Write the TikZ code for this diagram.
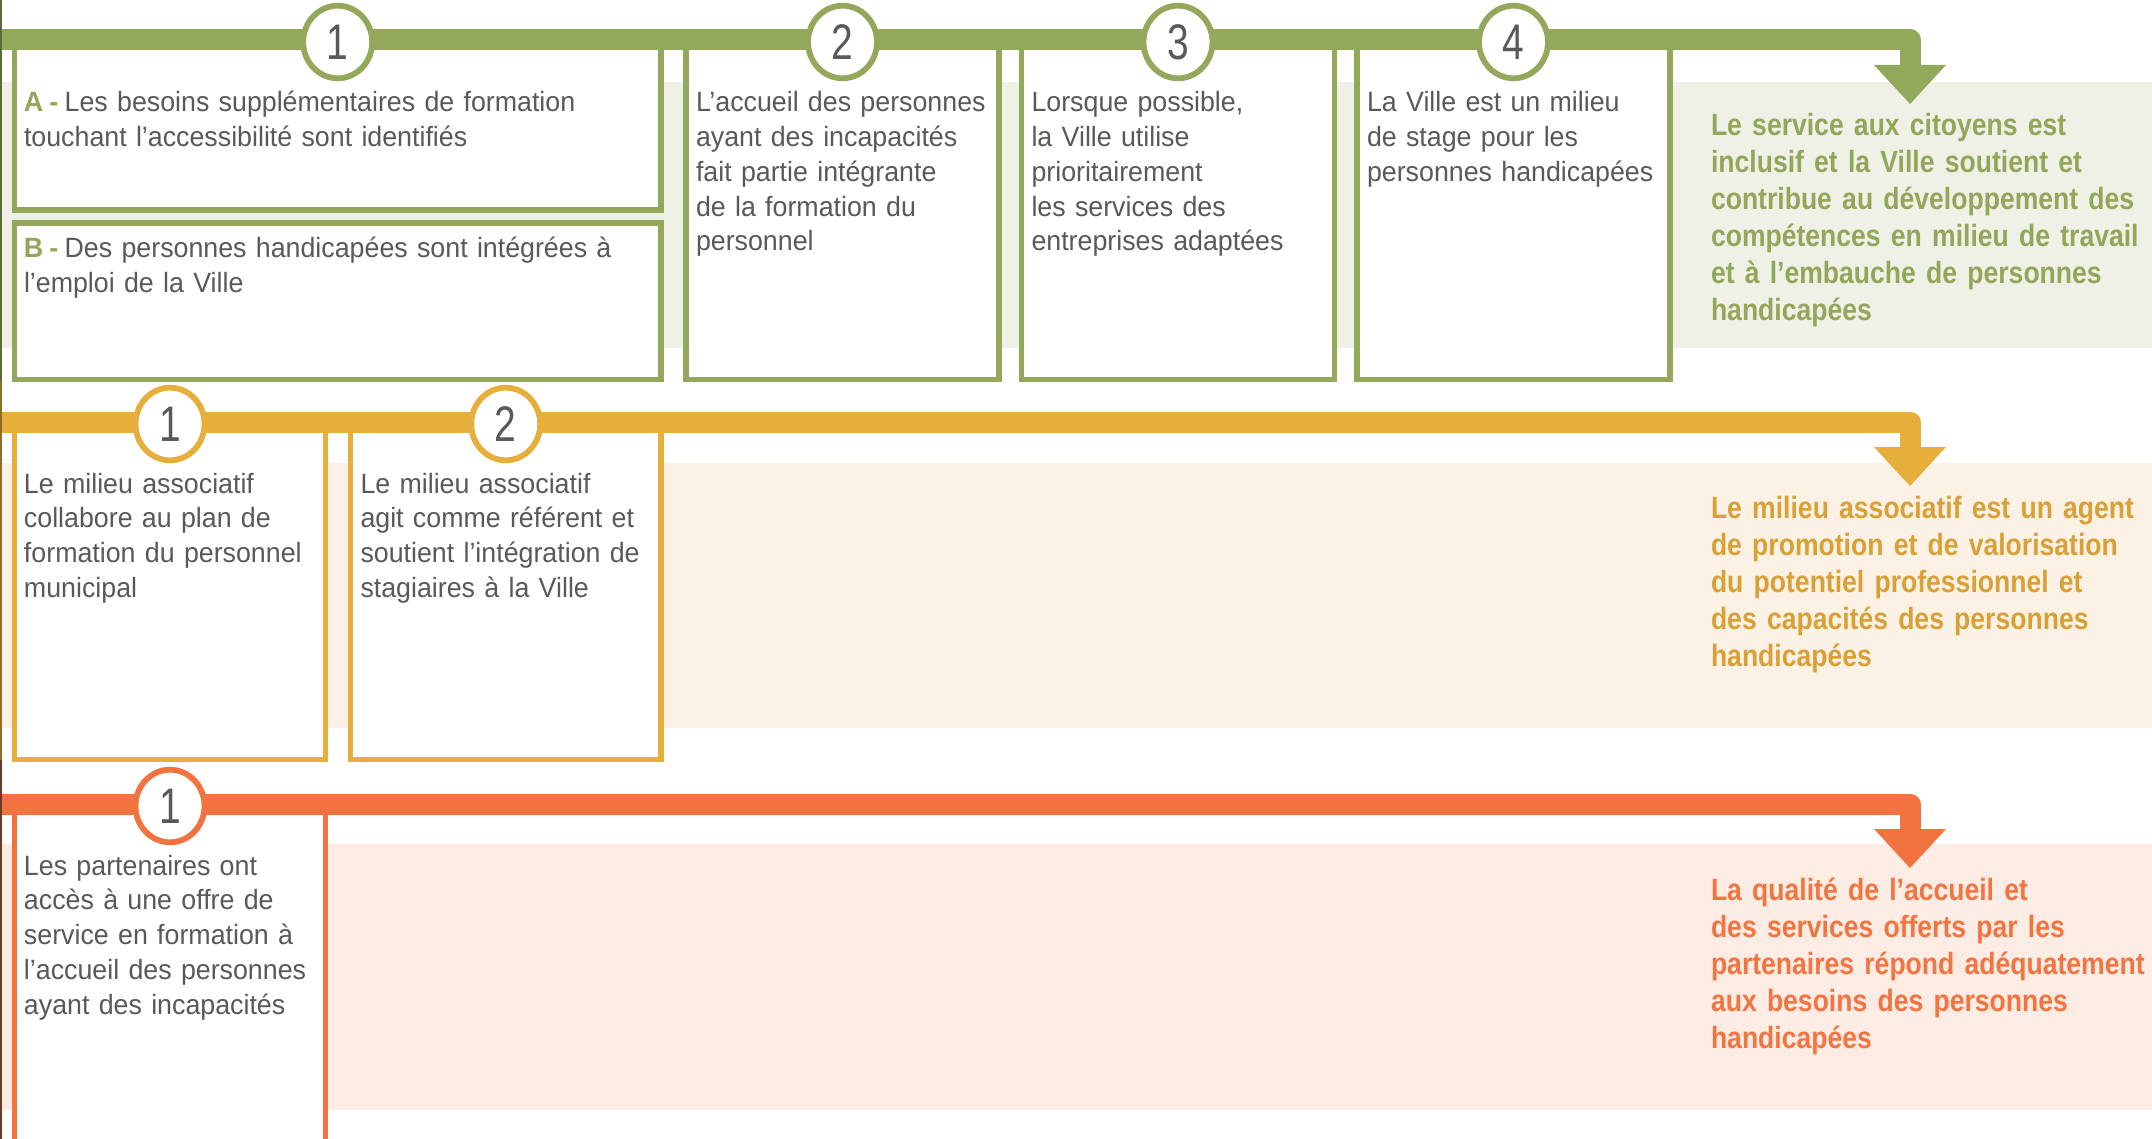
\documentclass[tikz,border=0pt]{standalone}
\usepackage{fontspec}
\setmainfont{Liberation Sans}
\newfontfamily\txtfont{Liberation Sans}[FakeStretch=0.96]
\newfontfamily\outfont{Liberation Sans}[FakeStretch=0.865]
\newfontfamily\numfont{Liberation Sans}[FakeStretch=0.78]
\usetikzlibrary{shapes.geometric}
\definecolor{gr}{HTML}{94A85C}
\definecolor{grtext}{HTML}{93A65A}
\definecolor{grbg}{HTML}{EFF1E7}
\definecolor{ye}{HTML}{E6AE3A}
\definecolor{yetext}{HTML}{D9A035}
\definecolor{yebg}{HTML}{FBF2E5}
\definecolor{orr}{HTML}{F27240}
\definecolor{ortext}{HTML}{F27441}
\definecolor{orbg}{HTML}{FDECE3}
\definecolor{txt}{HTML}{58595B}
\definecolor{edgeA}{HTML}{5B6B3A}
\definecolor{edgeB}{HTML}{8C6D2A}
\definecolor{edgeC}{HTML}{6B3A28}
\newcommand{\lettag}[1]{{\color{grtext}\bfseries #1\kern3pt-\kern3.2pt}}
\begin{document}
\begin{tikzpicture}[x=0.5pt,y=-0.5pt,
  boxnode/.style={draw=#1, fill=white, line width=2.75pt, rectangle, anchor=north west, outer sep=0pt, inner sep=0pt},
  barline/.style={draw=#1, line width=10.5pt, line join=round},
  numnode/.style={draw=#1, fill=white, ellipse, line width=2.9pt, minimum width=34.5pt, minimum height=36.3pt, inner sep=0pt, outer sep=0pt, font=\numfont\fontsize{25pt}{25pt}\selectfont, text=txt},
  bodytext/.style={anchor=base west, inner sep=0pt, outer sep=0pt, text width=330pt, align=left, font=\txtfont\fontsize{13.95pt}{17.375pt}\selectfont, text=txt},
  outtext/.style={anchor=base west, inner sep=0pt, outer sep=0pt, text width=300pt, align=left, text=#1, font=\outfont\bfseries\fontsize{15.35pt}{18.5pt}\selectfont}
]
\useasboundingbox (0,0) rectangle (2152,1139);
\clip (0,0) rectangle (2152,1139);

% ---------- backgrounds ----------
\fill[grbg] (0,82) rectangle (2152,348);
\fill[yebg] (0,463) rectangle (2152,728);
\fill[orbg] (0,844) rectangle (2152,1110);

% ---------- row 1 (green) ----------
\node[boxnode=gr, minimum width=323.25pt, minimum height=85pt] (bA) at (14.5,40) {};
\node[boxnode=gr, minimum width=323.25pt, minimum height=78.25pt] (bB) at (14.5,223) {};
\node[boxnode=gr, minimum width=156.5pt, minimum height=169.75pt] (b2) at (686,40) {};
\node[boxnode=gr, minimum width=156.5pt, minimum height=169.75pt] (b3) at (1021.5,40) {};
\node[boxnode=gr, minimum width=156.5pt, minimum height=169.75pt] (b4) at (1357,40) {};

\coordinate (gs) at (-20,40);
\coordinate (gt) at (1910,40);
\coordinate (ge) at (1910,65);
\coordinate (ga) at (1910,104);
\draw[barline=gr] (gs) -- (gt) -- (ge);
\fill[gr] ([xshift=-18pt]ge) -- ([xshift=18pt]ge) -- (ga) -- cycle;

\node[numnode=gr] (n11) at (337.7,42) {\raisebox{-1pt}{1}};
\node[numnode=gr] (n12) at (842.5,42) {\raisebox{-1pt}{2}};
\node[numnode=gr] (n13) at (1178,42) {\raisebox{-1pt}{3}};
\node[numnode=gr] (n14) at (1513.5,42) {\raisebox{-1pt}{4}};

\node[bodytext] (tA) at (24,112) {\lettag{A}Les besoins supplémentaires de formation\\touchant l’accessibilité sont identifiés};
\node[bodytext] (tB) at (24,258) {\lettag{B}Des personnes handicapées sont intégrées à\\l’emploi de la Ville};
\node[bodytext] (t2) at (696,112) {L’accueil des personnes\\ayant des incapacités\\fait partie intégrante\\de la formation du\\personnel};
\node[bodytext] (t3) at (1031.5,112) {Lorsque possible,\\la Ville utilise\\prioritairement\\les services des\\entreprises adaptées};
\node[bodytext] (t4) at (1367,112) {La Ville est un milieu\\de stage pour les\\personnes handicapées};
\node[outtext=grtext] (oG) at (1711,136) {Le service aux citoyens est\\inclusif et la Ville soutient et\\contribue au développement des\\compétences en milieu de travail\\et à l’embauche de personnes\\handicapées};

% ---------- row 2 (yellow) ----------
\node[boxnode=ye, minimum width=155.5pt, minimum height=168.75pt] (y1) at (14.5,422) {};
\node[boxnode=ye, minimum width=155.25pt, minimum height=168.75pt] (y2) at (350.5,422) {};

\coordinate (ys) at (-20,422);
\coordinate (yt) at (1910,422);
\coordinate (ye) at (1910,447);
\coordinate (ya) at (1910,486);
\draw[barline=ye] (ys) -- (yt) -- (ye);
\fill[ye] ([xshift=-18pt]ye) -- ([xshift=18pt]ye) -- (ya) -- cycle;

\node[numnode=ye] (n21) at (170,424) {\raisebox{-1pt}{1}};
\node[numnode=ye] (n22) at (505.7,424) {\raisebox{-1pt}{2}};

\node[bodytext] (ty1) at (24,493) {Le milieu associatif\\collabore au plan de\\formation du personnel\\municipal};
\node[bodytext] (ty2) at (360.5,493) {Le milieu associatif\\agit comme référent et\\soutient l’intégration de\\stagiaires à la Ville};
\node[outtext=yetext] (oY) at (1711,518) {Le milieu associatif est un agent\\de promotion et de valorisation\\du potentiel professionnel et\\des capacités des personnes\\handicapées};

% ---------- row 3 (orange) ----------
\node[boxnode=orr, minimum width=155.5pt, minimum height=178pt] (r1) at (14.5,804) {};

\coordinate (rs) at (-20,804);
\coordinate (rt) at (1910,804);
\coordinate (re) at (1910,829);
\coordinate (ra) at (1910,868);
\draw[barline=orr] (rs) -- (rt) -- (re);
\fill[orr] ([xshift=-18pt]re) -- ([xshift=18pt]re) -- (ra) -- cycle;

\node[numnode=orr] (n31) at (170,806) {\raisebox{-1pt}{1}};

\node[bodytext] (tr1) at (24,875) {Les partenaires ont\\accès à une offre de\\service en formation à\\l’accueil des personnes\\ayant des incapacités};
\node[outtext=ortext] (oR) at (1711,900) {La qualité de l’accueil et\\des services offerts par les\\partenaires répond adéquatement\\aux besoins des personnes\\handicapées};

% ---------- thin left edge ----------
\fill[edgeA] (0,0) rectangle (1.5,380);
\fill[edgeB] (0,380) rectangle (1.5,760);
\fill[edgeC] (0,760) rectangle (1.5,1139);
\end{tikzpicture}
\end{document}
